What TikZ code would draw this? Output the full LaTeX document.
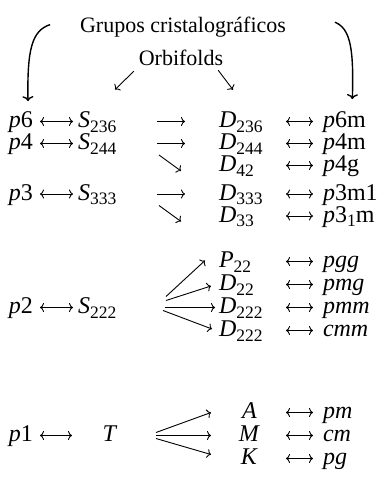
\documentclass[tikz,border=0pt]{standalone}
\usepackage{fontspec}
\setmainfont{Liberation Serif}
\usetikzlibrary{arrows.meta}
\newcommand\Sb[1]{\raisebox{-0.2em}{\fontsize{17.5}{18}\selectfont #1}}
\begin{document}
\begin{tikzpicture}[x=1pt,y=-1pt,
  every node/.style={inner sep=0pt,outer sep=0pt,font=\fontsize{24}{28}\selectfont},
  ttl/.style={anchor=base,font=\fontsize{22}{26}\selectfont},
  lab/.style={anchor=base west},
  pl/.style={anchor=base west,text width=28pt},
  sl/.style={anchor=base west,text width=50pt},
  dl/.style={anchor=base west,text width=61pt},
  cl/.style={anchor=base,text width=61pt,align=center},
  ar/.style={line width=0.9pt,-{To[length=4pt,width=9pt]}},
  dar/.style={line width=0.9pt,{To[length=4pt,width=9pt]}-{To[length=4pt,width=9pt]}},
  bigar/.style={line width=1.4pt,-{To[length=5pt,width=11pt]}}]
\useasboundingbox (0,0) rectangle (385,483);
% titles
\node[ttl] (g) at (183,32) {Grupos cristalográficos};
\node[ttl] (orb) at (181,65) {Orbifolds};
% row 1
\node[pl] (p6) at (9,127.5) {\textit{p}6};
\node[sl] (s1) at (78,127.5) {\textit{S}\Sb{236}};
\node[dl] (d1) at (219,127.5) {\textit{D}\Sb{236}};
\node[lab] (r1) at (323,127.5) {\textit{p}6m};
% row 2
\node[pl] (p4) at (9,149.5) {\textit{p}4};
\node[sl] (s2) at (78,149.5) {\textit{S}\Sb{244}};
\node[dl] (d2) at (219,149.5) {\textit{D}\Sb{244}};
\node[lab] (r2) at (323,149.5) {\textit{p}4m};
% row 3
\node[dl] (d3) at (219,171.5) {\textit{D}\Sb{42}};
\node[lab] (r3) at (323,171.5) {\textit{p}4g};
% row 4
\node[pl] (p3) at (9,200) {\textit{p}3};
\node[sl] (s4) at (78,200) {\textit{S}\Sb{333}};
\node[dl] (d4) at (219,200) {\textit{D}\Sb{333}};
\node[lab] (r4) at (323,200) {\textit{p}3m1};
% row 5
\node[dl] (d5) at (219,222) {\textit{D}\Sb{33}};
\node[lab] (r5) at (323,222) {\textit{p}3\Sb{1}m};
% p2 block
\node[dl] (e1) at (219,267.5) {\textit{P}\Sb{22}};
\node[lab] (q1) at (323,267.5) {\textit{pgg}};
\node[dl] (e2) at (219,290.5) {\textit{D}\Sb{22}};
\node[lab] (q2) at (323,290.5) {\textit{pmg}};
\node[pl] (p2) at (9,313.5) {\textit{p}2};
\node[sl] (s5) at (78,313.5) {\textit{S}\Sb{222}};
\node[dl] (e3) at (219,313.5) {\textit{D}\Sb{222}};
\node[lab] (q3) at (323,313.5) {\textit{pmm}};
\node[dl] (e4) at (219,336.5) {\textit{D}\Sb{222}};
\node[lab] (q4) at (323,336.5) {\textit{cmm}};
% p1 block
\node[cl] (a1) at (249.5,418.5) {\textit{A}};
\node[lab] (t1) at (323,418.5) {\textit{pm}};
\node[pl] (p1) at (9,441.5) {\textit{p}1};
\node[anchor=base,text width=20pt,align=center] (T) at (110,441.5) {\textit{T}};
\node[cl] (a2) at (249.5,441.5) {\textit{M}};
\node[lab] (t2) at (323,441.5) {\textit{cm}};
\node[cl] (a3) at (249.5,464.5) {\textit{K}};
\node[lab] (t3) at (323,464.5) {\textit{pg}};
% top arrows
\draw[bigar] ([xshift=-30pt,yshift=2pt]g.west) .. controls ([xshift=-48pt,yshift=-4pt]g.west) and ([xshift=-53pt,yshift=-22pt]g.west) .. ([xshift=5pt,yshift=10.5pt]p6.north);
\draw[bigar] ([xshift=49pt,yshift=4.5pt]g.east) .. controls ([xshift=64pt,yshift=-2pt]g.east) and ([xshift=68pt,yshift=-20pt]g.east) .. ([xshift=8pt,yshift=12.5pt]r1.north);
\draw[ar] ([xshift=-5pt,yshift=-6pt]orb.south west) -- ([xshift=37pt,yshift=22pt]s1.north west);
\draw[ar] ([xshift=-5pt,yshift=-5pt]orb.south east) -- ([xshift=14pt,yshift=22pt]d1.north west);
% left double arrows
\foreach \a/\b in {p6/s1,p4/s2,p3/s4,p2/s5}
  \draw[dar] ([xshift=3pt,yshift=6pt]\a.base east) -- ([xshift=-5pt,yshift=6pt]\b.base west);
\draw[dar] ([xshift=3pt,yshift=6pt]p1.base east) -- ([xshift=-28pt,yshift=6pt]T.base west);
% middle double arrows
\foreach \a/\b in {d1/r1,d2/r2,d3/r3,d4/r4,d5/r5,e1/q1,e2/q2,e3/q3,e4/q4,a1/t1,a2/t2,a3/t3}
  \draw[dar] ([xshift=6pt,yshift=6pt]\a.base east) -- ([xshift=-10pt,yshift=6pt]\b.base west);
% row arrows
\foreach \a/\b in {s1/d1,s2/d2,s4/d4}
  \draw[ar] ([xshift=29pt,yshift=6pt]\a.base east) -- ([xshift=-34pt,yshift=6pt]\b.base west);
\draw[ar] ([xshift=31pt,yshift=-5.5pt]s2.base east) -- ([xshift=-38pt,yshift=0.5pt]d3.base west);
\draw[ar] ([xshift=31pt,yshift=-5.5pt]s4.base east) -- ([xshift=-38pt,yshift=0.5pt]d5.base west);
% p2 fan
\draw[ar] ([xshift=38pt,yshift=17pt]s5.base east) -- ([xshift=-14pt,yshift=7pt]e1.base west);
\draw[ar] ([xshift=38pt,yshift=13pt]s5.base east) -- ([xshift=-8pt,yshift=4.5pt]e2.base west);
\draw[ar] ([xshift=37pt,yshift=6pt]s5.base east) -- ([xshift=-4pt,yshift=6pt]e3.base west);
\draw[ar] ([xshift=35pt,yshift=3pt]s5.base east) -- ([xshift=-7pt,yshift=7.5pt]e4.base west);
% p1 fan
\draw[ar] ([xshift=36pt,yshift=9pt]T.base east) -- ([xshift=-8pt,yshift=6pt]a1.base west);
\draw[ar] ([xshift=36pt,yshift=6pt]T.base east) -- ([xshift=-8pt,yshift=6pt]a2.base west);
\draw[ar] ([xshift=36pt,yshift=3pt]T.base east) -- ([xshift=-8pt,yshift=10pt]a3.base west);
\end{tikzpicture}
\end{document}
